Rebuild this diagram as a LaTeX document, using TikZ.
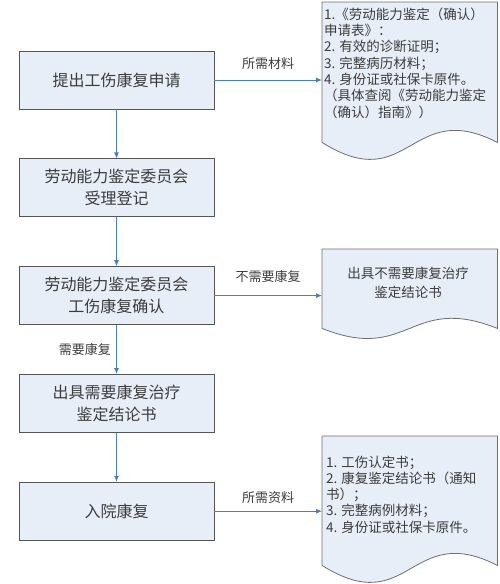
\documentclass[tikz,border=0pt]{standalone}
\usepackage{fontspec}
\setmainfont{Noto Sans CJK SC}
\usepackage{xcolor}
\usepackage{tikz}
\usetikzlibrary{calc, positioning, arrows.meta}

\definecolor{boxfill}{RGB}{232,238,248}
\definecolor{linegray}{RGB}{85,85,85}
\definecolor{docgray}{RGB}{110,110,110}
\definecolor{arrowblue}{RGB}{74,126,190}
\definecolor{txtgray}{RGB}{60,60,60}

% 文档形状（下边为波浪线）
\newcommand\docshape[3]{%
  \draw[docline] (#1.south west) -- (#1.north west) -- (#1.north east) -- (#1.south east)
    .. controls ($(#1.south)+(0,-#3)$) and ($(#1.south)+(0,#2)$) .. (#1.south west) -- cycle;}

\begin{document}
\begin{tikzpicture}[x=1pt, y=-1pt, >={Latex[length=6pt, width=5pt]},
    box/.style={draw=linegray, fill=boxfill, line width=0.8pt, minimum width=195pt,
        minimum height=58pt, align=center, text=txtgray, font=\fontsize{16}{22}\selectfont},
    docbody/.style={minimum width=175pt, inner sep=0pt},
    docline/.style={draw=docgray, fill=boxfill, line width=0.8pt},
    doctext/.style={text=txtgray, align=left, inner sep=0pt, font=\fontsize{13.5}{16.3}\selectfont},
    lbl/.style={text=txtgray, font=\fontsize{13}{16}\selectfont},
    flow/.style={->, draw=arrowblue, line width=0.8pt}]
    \useasboundingbox (0,0) rectangle (500,584);

    % 流程框
    \node[box] (b1) at (116.5,80) {提出工伤康复申请};
    \node[box, below=49pt of b1] (b2) {劳动能力鉴定委员会\\受理登记};
    \node[box, below=49pt of b2] (b3) {劳动能力鉴定委员会\\工伤康复确认};
    \node[box, below=49pt of b3] (b4) {出具需要康复治疗\\鉴定结论书};
    \node[box, below=49pt of b4] (b5) {入院康复};

    % 文档
    \node[docbody, minimum height=140pt, anchor=north west] (d1) at (322,2) {};
    \node[docbody, minimum height=79pt, anchor=north west] (d2) at (322,249) {};
    \node[docbody, minimum height=129pt, anchor=north west] (d3) at (322,436) {};
    \docshape{d1}{55}{45}
    \docshape{d2}{35}{35}
    \docshape{d3}{55}{45}

    \node[doctext, anchor=west] (t1) at (324,63)
        {1.《劳动能力鉴定（确认）\\申请表》：\\2. 有效的诊断证明；\\3. 完整病历材料；\\4. 身份证或社保卡原件。\\（具体查阅《劳动能力鉴定\\（确认）指南》）};
    \node[doctext, align=center, font=\fontsize{13.5}{19}\selectfont] (t2) at (408,282.5)
        {出具不需要康复治疗\\鉴定结论书};
    \node[doctext, anchor=west] (t3) at (326,494.5)
        {1. 工伤认定书；\\2. 康复鉴定结论书（通知\\书）；\\3. 完整病例材料；\\4. 身份证或社保卡原件。};

    % 连线
    \draw[flow] (b1) -- (b2);
    \draw[flow] (b2) -- (b3);
    \draw[flow] (b3) -- node[lbl, left=2pt] {需要康复} (b4);
    \draw[flow] (b4) -- (b5);
    \draw[flow] (b1.east) -- node[lbl, above=7pt] {所需材料} (b1.east -| d1.west);
    \draw[flow] (b3.east) -- node[lbl, above=9pt] {不需要康复} (b3.east -| d2.west);
    \draw[flow] (b5.east) -- node[lbl, above=4pt] {所需资料} (b5.east -| d3.west);
\end{tikzpicture}
\end{document}
